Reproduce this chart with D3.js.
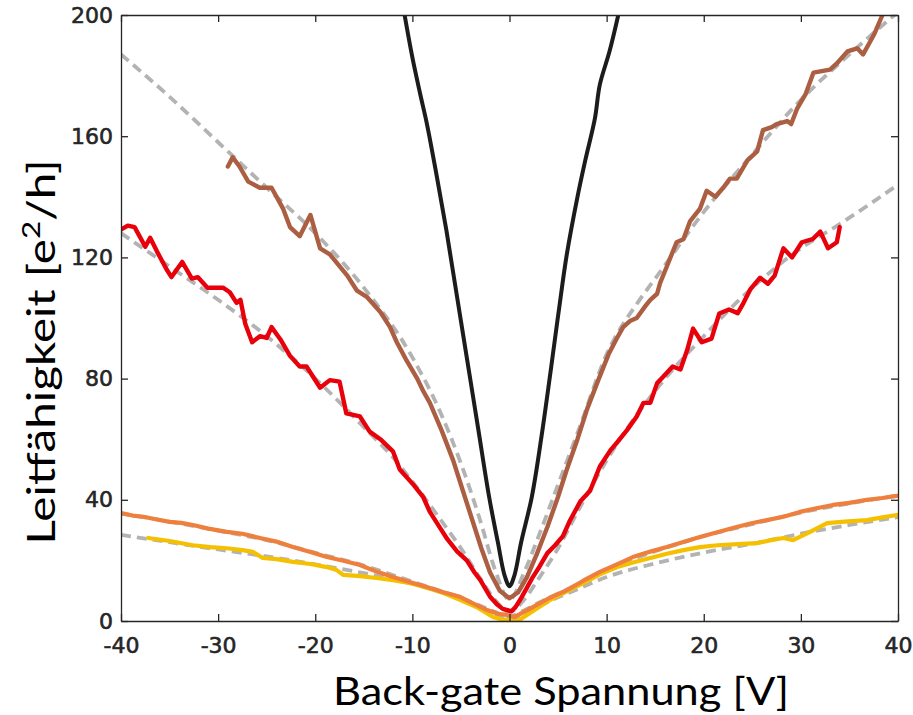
<!DOCTYPE html>
<html>
<head>
<meta charset="utf-8">
<script src="https://cdn.jsdelivr.net/npm/d3@7"></script>
<style>
  body { margin: 0; background: #fff; }
  svg { display: block; }
</style>
</head>
<body>
<div id="chart"></div>
<script>
const blackCurve = [[-10.8,200],[-10.0,186],[-9.2,174],[-8.5,164],[-7.5,147],[-6.5,129],[-5.5,109],[-4.4,87],[-3.2,63],[-2.1,41],[-1.2,26],[-0.5,15],[0,11.5],
  [0.5,15],[1.2,26],[2.3,41],[3.3,61],[4.3,84],[5.1,103],[5.9,121],[7.0,140],[7.8,152],[8.8,166],[9.3,177],[10.3,188],[11.2,200]];

const brownCurve = [[-29.0,150],[-28.5,153],[-27.8,150],[-26.9,145],[-25.7,143],[-24.5,143],[-23.3,136],[-22.6,130],[-21.6,127],[-20.5,134],[-19.5,123],[-18.5,121],
  [-16.7,114],[-15.7,109],[-14.7,107],[-13.3,102],[-12.3,97],[-11.6,92],[-10.6,86],[-9.5,80],[-8.9,76],[-8.2,72],[-7.0,63],[-5.8,53],[-4.8,43],[-3.8,33],
  [-2.9,24],[-2.0,16],[-1.0,10],[0,7.5],[0.9,9.5],[1.8,14.5],[2.8,22],[3.9,31],[5.0,41],[5.9,50],[7.0,60],[8.0,70],[9.2,80],[10.2,88],[11.0,93],[11.7,97],
  [12.4,99],[13.1,100],[14.0,104],[14.5,106],[15.2,108],[15.5,111.5],[16.2,117],[17.2,125],[17.9,126],[18.6,132],[19.6,136],[20.3,142],[21.2,140],[22.0,143],
  [22.7,146],[23.4,146],[24.5,152],[25.5,155],[26.1,162],[27.0,163],[27.5,164],[28.6,165],[29.0,164],[29.6,169],[30.5,174],[31.3,181],[33.0,182],[33.7,184],
  [34.8,188],[35.8,189],[36.4,187],[37.1,191],[37.6,194],[38.4,200],[38.8,203]];

const redCurve = [[-40.1,129],[-39.3,130.5],[-38.6,130],[-37.5,123.5],[-37.0,126.5],[-36.3,122],[-35.3,116],[-34.8,113.5],[-33.7,118.5],[-32.7,113],[-32.1,113.5],
  [-31.1,110],[-30.2,110],[-29.5,110],[-28.8,108.5],[-28.1,105],[-27.7,106],[-27.2,98],[-26.5,92],[-25.7,94],[-25.0,93.4],[-24.5,97],[-23.6,93],[-22.6,87.5],
  [-21.6,84],[-20.9,84],[-19.5,77],[-18.5,79.5],[-17.5,79],[-16.8,68.5],[-16.1,68],[-15.4,67.5],[-14.4,62.5],[-13.3,60],[-12.0,56],[-11.3,50],[-9.9,45],
  [-8.9,41],[-8.2,36],[-7.2,31],[-6.4,27],[-5.4,23],[-4.4,20],[-3.6,16],[-3.0,13.5],[-2.0,8],[-1.3,5.5],[-0.7,4],[0.2,3.2],[0.6,4.5],[1.1,7],[1.8,11],
  [2.4,14.5],[3.1,18],[3.9,22.4],[4.7,25],[5.5,28],[6.2,33],[7.3,39.5],[8.3,43],[9.3,51],[10.4,56.4],[11.1,59],[12.1,63],[13.1,67.5],[13.8,72],[14.5,72],
  [15.2,78.5],[15.8,80.5],[16.8,84],[17.6,83],[18.3,89.5],[18.9,96.5],[19.8,92],[20.8,93.2],[21.6,101.5],[22.6,102.8],[23.5,101.6],[24.1,105],[24.8,109.5],
  [25.8,113.3],[26.6,111.3],[27.3,114],[28.2,123],[29.1,120],[30.1,125],[31.2,126],[32.0,128.5],[32.8,123],[33.7,125],[34.0,130]];

const orangeCurve = [[-40,35.6],[-38.8,34.8],[-37.7,34.4],[-36.3,33.5],[-35,32.7],[-33.8,32.4],[-32.6,31.7],[-31,30.5],[-29.1,29.4],[-27.5,28.8],[-25.7,27.4],
  [-24,26.2],[-22.3,24.4],[-20.5,22.8],[-18.8,21.1],[-17,19.8],[-15.4,18.5],[-13.7,16.3],[-12,14.5],[-10.2,12.8],[-8.5,11.2],[-6.8,9.5],[-5.1,8],[-3.6,5.6],
  [-2.3,3.6],[-1.2,2.4],[-0.3,2],[0.5,1.3],[1.2,2.5],[2.4,4.6],[4.1,7.6],[5.9,10.2],[7.6,13.3],[9.3,16.2],[11,18.6],[12.7,21.1],[14.5,22.9],[16.2,24.4],
  [17.9,26.1],[19.6,27.7],[21.3,29.2],[23,30.7],[24.8,32.2],[26.5,33.3],[28.2,34.4],[29.9,36],[31.6,37.2],[33.3,38.3],[35,39],[36.8,40],[38.4,40.6],[39.9,41.3]];

const yellowCurve = [[-37.2,27.4],[-35,26.4],[-32.6,25],[-30.8,24.4],[-29.1,24],[-27.5,23.4],[-26.4,22.8],[-25.4,20.8],[-24,20.4],[-22.3,19.5],[-20.5,18.8],
  [-18.8,17.8],[-17.8,16.8],[-17.1,15.2],[-15.4,14.8],[-13.7,14.2],[-12,13.5],[-10.2,12.5],[-8.5,11],[-6.8,9.2],[-5.1,7],[-3.4,4.6],[-1.7,1.3],[-0.8,0.5],
  [0,0.2],[1,0.3],[2.5,3.5],[4.2,7],[5.9,9.8],[7.6,12.5],[9.3,15.4],[11.1,17.8],[12.8,19.4],[14.5,20.8],[16.2,22.2],[17.9,23.4],[19.6,24.4],[21.4,25],
  [23.5,25.4],[25.5,25.7],[26.8,26.6],[28.2,27.4],[29.2,26.7],[30.9,29.3],[32.7,32.3],[34.5,32.8],[36.8,33.3],[38.4,34.2],[39.9,35]];

// Fit-Kurven (grau gestrichelt)
const brownFit = [[-40,187],[-35,173],[-30,158],[-25,143],[-20,128],[-15,110],[-10,87],[-7,68],[-5,52],[-3,33],[-1.5,17],[0,7],
  [1.5,16],[3,28],[5,45],[7,62],[10,88],[13.4,106],[15,113],[20,135],[25,154],[30,172],[35,187],[40,201]];
const redFit = [[-40,128],[-35,117],[-30,106],[-25,94],[-20,80],[-15,64],[-12,54],[-10,46],[-7,33],[-5,24],[-3,14],[-1.5,7],[0,3],
  [1.5,7],[3,14],[5,24],[7,36],[10,53],[12,63],[15,76],[20,94],[25,110],[30,123],[34,131],[40,144]];
const orangeFit = [[-40,35.5],[-35,32.8],[-30,29.8],[-25,26.7],[-20,22.5],[-15,18.3],[-10,13],[-7,9.8],[-5,7.6],[-3,5],[-1.5,3],[0,1.5],
  [1.5,3.5],[3,6],[5,9],[7,12],[10,17],[15,23],[20,28],[25,32],[30,35.8],[35,38.8],[40,41.4]];
const yellowFit = [[-40,28.4],[-35,26],[-30,23.6],[-25,21.3],[-20,18.7],[-15,15.8],[-10,12.3],[-7,9.5],[-5,7.2],[-3,4.3],[-1.5,2],[0,0.5],
  [1.5,2.3],[3,4.8],[5,7.8],[7,10.5],[10,14.5],[15,19],[20,22.6],[25,25.5],[30,28.8],[35,31.7],[40,34.3]];

const xTicks = [-40, -30, -20, -10, 0, 10, 20, 30, 40];
const yTicks = [0, 40, 80, 120, 160, 200];

const width = 913, height = 715;
const margin = {top: 15, right: 15, bottom: 94, left: 121};

const svg = d3.select("#chart").append("svg")
    .attr("width", width)
    .attr("height", height);

const x = d3.scaleLinear().domain([-40, 40]).range([margin.left, width - margin.right]);
const y = d3.scaleLinear().domain([0, 200]).range([height - margin.bottom, margin.top]);

svg.append("clipPath").attr("id", "plotclip")
  .append("rect")
    .attr("x", margin.left).attr("y", margin.top)
    .attr("width", x(40) - x(-40)).attr("height", y(0) - y(200));

const line = d3.line().x(d => x(d[0])).y(d => y(d[1]));

const plot = svg.append("g").attr("clip-path", "url(#plotclip)");

// Fits zuerst, Messkurven darüber
[brownFit, redFit, orangeFit, yellowFit].forEach(f => {
  plot.append("path")
    .datum(f)
    .attr("d", line.curve(d3.curveMonotoneX))
    .attr("fill", "none")
    .attr("stroke", "#b3b3b3")
    .attr("stroke-width", 3.8)
    .attr("stroke-dasharray", "10,6");
});

const curves = [
  {data: yellowCurve, color: "#f5c000", w: 4.2, smooth: false},
  {data: orangeCurve, color: "#ee7f3d", w: 4.2, smooth: false},
  {data: redCurve, color: "#e8000b", w: 4.4, smooth: false},
  {data: brownCurve, color: "#ac5e42", w: 4.4, smooth: false},
  {data: blackCurve, color: "#1c1c1c", w: 4, smooth: true}
];

curves.forEach(c => {
  plot.append("path")
    .datum(c.data)
    .attr("d", line.curve(c.smooth ? d3.curveCatmullRom : d3.curveLinear))
    .attr("fill", "none")
    .attr("stroke", c.color)
    .attr("stroke-width", c.w)
    .attr("stroke-linejoin", "round")
    .attr("stroke-linecap", "round");
});

// Achsen (Ticks nach innen, Rahmen)
const fmt = d => String(d);   // Bindestrich statt Minuszeichen wie im Original

svg.append("g")
    .attr("transform", `translate(0,${y(0)})`)
    .call(d3.axisBottom(x).tickValues(xTicks).tickFormat(fmt).tickSize(-7).tickPadding(16).tickSizeOuter(0));
svg.append("g")
    .attr("transform", `translate(0,${y(200)})`)
    .call(d3.axisTop(x).tickValues(xTicks).tickSize(-7).tickFormat("").tickSizeOuter(0));
svg.append("g")
    .attr("transform", `translate(${x(-40)},0)`)
    .call(d3.axisLeft(y).tickValues(yTicks).tickFormat(fmt).tickSize(-7).tickPadding(8).tickSizeOuter(0));
svg.append("g")
    .attr("transform", `translate(${x(40)},0)`)
    .call(d3.axisRight(y).tickValues(yTicks).tickSize(-7).tickFormat("").tickSizeOuter(0));

svg.selectAll(".domain").attr("stroke", "#262626").attr("stroke-width", 1.3);
svg.selectAll(".tick line").attr("stroke", "#262626").attr("stroke-width", 1.3);
svg.selectAll(".tick text")
    .attr("fill", "#262626")
    .attr("stroke", "#262626")
    .attr("stroke-width", 0.6)
    .style("font-family", "'DejaVu Sans', sans-serif")
    .style("font-size", "22px");

// Achsenbeschriftungen
svg.append("text")
    .attr("x", 561)
    .attr("y", 705)
    .attr("text-anchor", "middle")
    .attr("textLength", 456)
    .attr("lengthAdjust", "spacingAndGlyphs")
    .style("font-family", "Lato, 'Open Sans', sans-serif")
    .style("font-size", "38px")
    .attr("fill", "#000")
    .text("Back-gate Spannung [V]");

const yl = svg.append("text")
    .attr("transform", "translate(55,352) rotate(-90)")
    .attr("text-anchor", "middle")
    .attr("textLength", 385)
    .attr("lengthAdjust", "spacingAndGlyphs")
    .style("font-family", "Lato, 'Open Sans', sans-serif")
    .style("font-size", "38px")
    .attr("fill", "#000");
yl.append("tspan").text("Leitfähigkeit [e");
yl.append("tspan").attr("baseline-shift", "super").style("font-size", "25px").text("2");
yl.append("tspan").text("/h]");
</script>
</body>
</html>
